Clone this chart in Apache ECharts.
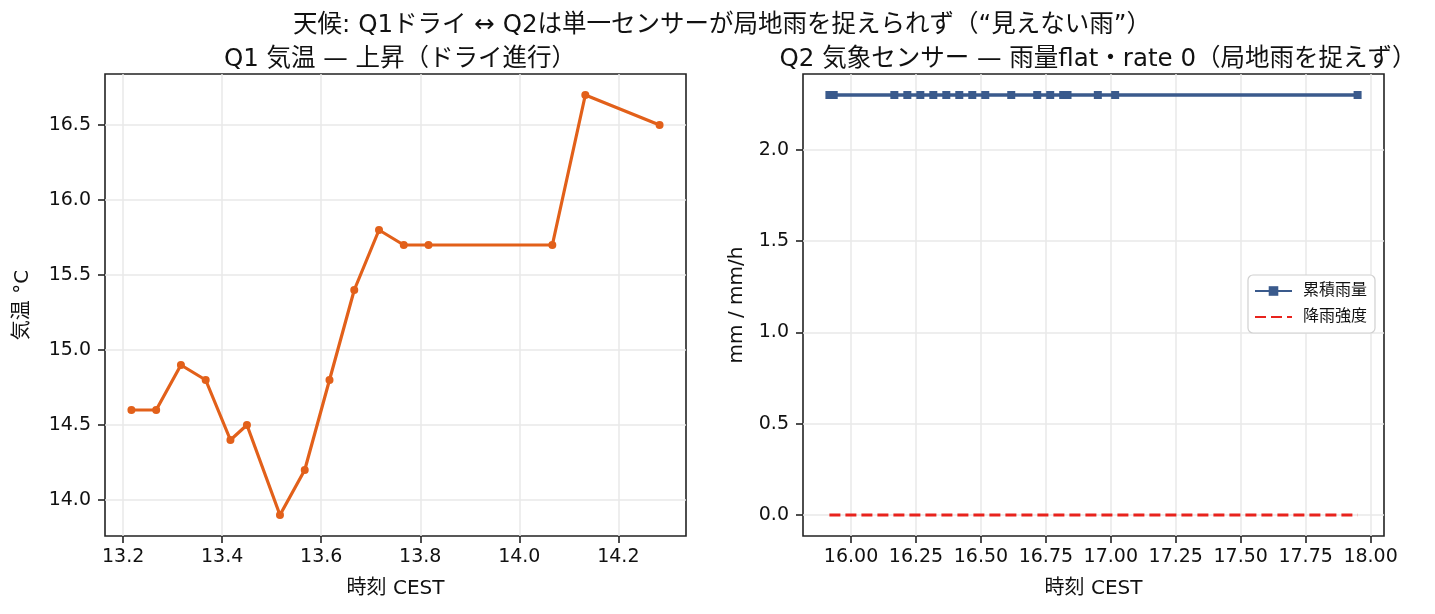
<!DOCTYPE html>
<html><head><meta charset="utf-8">
<script src="https://cdn.jsdelivr.net/npm/echarts@6/dist/echarts.min.js"></script>
<style>html,body{margin:0;padding:0;background:#fff}#c{width:1435px;height:614px}</style>
</head><body><div id="c"></div>
<script>
const q1Time = [13.2167,13.2667,13.3167,13.3667,13.4167,13.45,13.5167,13.5667,13.6167,13.6667,13.7167,13.7667,13.8167,14.0667,14.1333,14.2833];
const q1Temp = [14.6,14.6,14.9,14.8,14.4,14.5,13.9,14.2,14.8,15.4,15.8,15.7,15.7,15.7,16.7,16.5];
const q2Time = [15.9167,15.9333,16.1667,16.2167,16.2667,16.3167,16.3667,16.4167,16.4667,16.5167,16.6167,16.7167,16.7667,16.8167,16.8333,16.95,17.0167,17.95];
const q2Rain = [2.3,2.3,2.3,2.3,2.3,2.3,2.3,2.3,2.3,2.3,2.3,2.3,2.3,2.3,2.3,2.3,2.3,2.3];
const q2Rate = [0,0,0,0,0,0,0,0,0,0,0,0,0,0,0,0,0,0];
const q1XTicks = [13.2,13.4,13.6,13.8,14.0,14.2];
const q1YTicks = [14.0,14.5,15.0,15.5,16.0,16.5];
const q2XTicks = [16.0,16.25,16.5,16.75,17.0,17.25,17.5,17.75,18.0];
const q2YTicks = [0.0,0.5,1.0,1.5,2.0];

const FONT = '"DejaVu Sans", "Noto Sans CJK JP", sans-serif';
function pad(arr){const mn=Math.min(...arr),mx=Math.max(...arr),s=(mx-mn)||1;return [mn-0.05*s,mx+0.05*s];}
const q1X=pad(q1Time), q1Y=pad(q1Temp), q2X=pad(q2Time), q2Y=pad(q2Rain.concat(q2Rate));
const zip=(a,b)=>a.map((v,i)=>[v,b[i]]);
const TXT='#111';

function xAxis(idx, ext, ticks, dec){
  return {type:'value', gridIndex:idx, min:ext[0], max:ext[1],
    name:'時刻 CEST', nameLocation:'middle', nameGap:43,
    nameTextStyle:{fontFamily:FONT,fontSize:20,color:TXT},
    axisLine:{show:false,onZero:false},
    axisTick:{show:true,length:7,lineStyle:{color:'#222',width:1.6},customValues:ticks},
    axisLabel:{fontFamily:FONT,fontSize:19,color:TXT,margin:12,customValues:ticks,formatter:v=>v.toFixed(dec)},
    splitLine:{show:true,lineStyle:{color:'#e8e8e8',width:1.5},customValues:ticks}};
}
function yAxis(idx, ext, ticks, name, gap){
  return {type:'value', gridIndex:idx, min:ext[0], max:ext[1],
    name:name, nameLocation:'middle', nameGap:gap, nameRotate:90,
    nameTextStyle:{fontFamily:FONT,fontSize:20,color:TXT},
    axisLine:{show:false,onZero:false},
    axisTick:{show:true,length:7,lineStyle:{color:'#222',width:1.6},customValues:ticks},
    axisLabel:{fontFamily:FONT,fontSize:19,color:TXT,margin:14,customValues:ticks,formatter:v=>v.toFixed(1)},
    splitLine:{show:true,lineStyle:{color:'#e8e8e8',width:1.5},customValues:ticks}};
}
const TS={fontFamily:FONT,fontSize:24.5,fontWeight:'normal',color:TXT,lineHeight:25};

const chart = echarts.init(document.getElementById('c'), null, {renderer:'canvas'});
chart.setOption({
  animation:false,
  backgroundColor:'#fff',
  title:[
    {text:'天候: Q1ドライ ↔ Q2は単一センサーが局地雨を捉えられず（“見えない雨”）',left:717,top:8,textAlign:'center',textStyle:TS},
    {text:'Q1 気温 — 上昇（ドライ進行）',left:395,top:42,textAlign:'center',textStyle:TS},
    {text:'Q2 気象センサー — 雨量flat・rate 0（局地雨を捉えず）',left:1093,top:42,textAlign:'center',textStyle:TS}
  ],
  grid:[
    {left:105,right:749,top:74,bottom:78,show:true,borderColor:'#222',borderWidth:1.6,backgroundColor:'transparent'},
    {left:803,right:51,top:74,bottom:78,show:true,borderColor:'#222',borderWidth:1.6,backgroundColor:'transparent'}
  ],
  xAxis:[xAxis(0,q1X,q1XTicks,1), xAxis(1,q2X,q2XTicks,2)],
  yAxis:[yAxis(0,q1Y,q1YTicks,'気温 °C',72), yAxis(1,q2Y,q2YTicks,'mm / mm/h',56)],
  legend:{data:[{name:'累積雨量'},{name:'降雨強度',itemStyle:{opacity:0}}],left:1248,top:275,orient:'vertical',
    itemWidth:37,itemHeight:12,itemGap:10,padding:[8,8,8,6],
    borderColor:'#d0d0d0',borderWidth:1.2,borderRadius:5,backgroundColor:'#fff',
    textStyle:{fontFamily:FONT,fontSize:16,color:TXT,padding:[0,0,0,6]}},
  series:[
    {name:'気温',type:'line',xAxisIndex:0,yAxisIndex:0,data:zip(q1Time,q1Temp),
     symbol:'circle',symbolSize:8,lineStyle:{color:'#e2601a',width:3.2},itemStyle:{color:'#e2601a'}},
    {name:'累積雨量',type:'line',xAxisIndex:1,yAxisIndex:1,data:zip(q2Time,q2Rain),
     symbol:'rect',symbolSize:8,lineStyle:{color:'#3a5a8c',width:3.6},itemStyle:{color:'#3a5a8c'}},
    {name:'降雨強度',type:'line',xAxisIndex:1,yAxisIndex:1,data:zip(q2Time,q2Rate),
     symbol:'none',lineStyle:{color:'#e8231d',width:2.8,type:[11,5]},itemStyle:{color:'#e8231d'}}
  ]
});
</script></body></html>
